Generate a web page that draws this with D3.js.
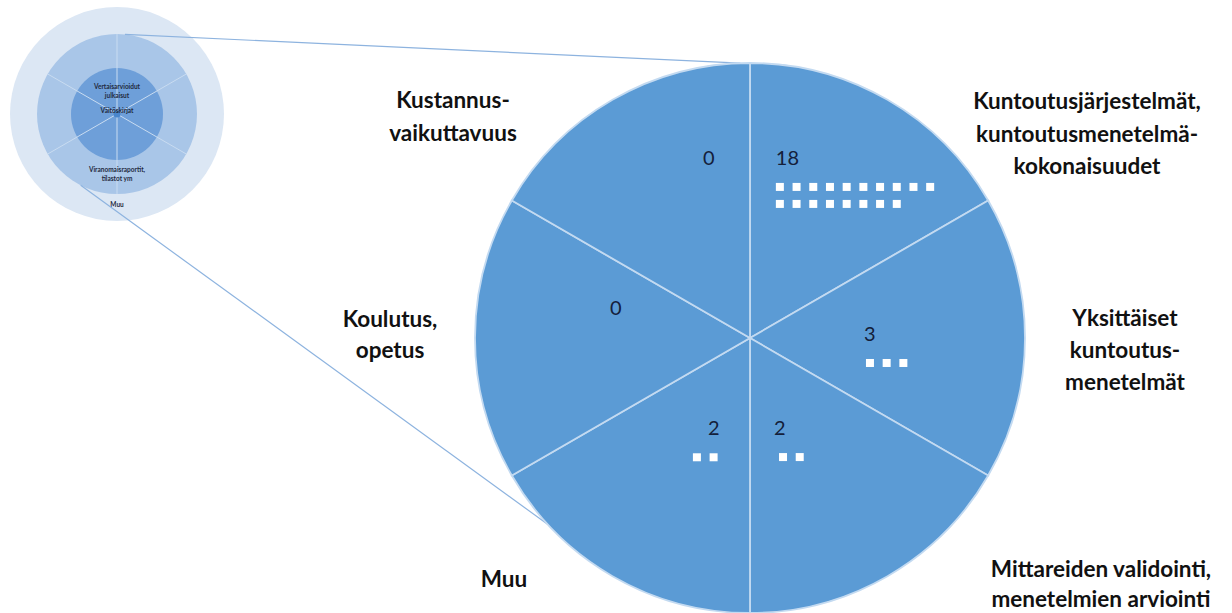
<!DOCTYPE html>
<html>
<head>
<meta charset="utf-8">
<script src="https://cdn.jsdelivr.net/npm/d3@7"></script>
<style>
  body { margin: 0; background: #fff; }
  svg { display: block; font-family: Lato, "Open Sans", sans-serif; }
</style>
</head>
<body>
<script>
// categories, clockwise from 12 o'clock
var categories = ["Kuntoutusjärjestelmät", "Yksittäiset kuntoutusmenetelmät", "Mittareiden validointi",
                  "Muu", "Koulutus, opetus", "Kustannusvaikuttavuus"];
var counts = [18, 3, 2, 2, 0, 0];
var labelLines = [
  ["Kuntoutusjärjestelmät,", "kuntoutusmenetelmä-", "kokonaisuudet"],
  ["Yksittäiset", "kuntoutus-", "menetelmät"],
  ["Mittareiden validointi,", "menetelmien arviointi"],
  ["Muu"],
  ["Koulutus,", "opetus"],
  ["Kustannus-", "vaikuttavuus"]
];
// small overview diagram, rings from inside out
var ringLabels = [
  ["Vertaisarvioidut", "julkaisut", "Väitöskirjat"],
  ["Viranomaisraportit,", "tilastot ym"],
  ["Muu"]
];

var width = 1232, height = 613;

var svg = d3.select("body").append("svg")
    .attr("width", width)
    .attr("height", height);

// big circle geometry
var cx = 750, cy = 338, R = 275;
// small circle geometry
var sx = 117, sy = 114, rings = [46, 80, 107];

function polar(x0, y0, deg, r) {
    var a = deg * Math.PI / 180;
    return [x0 + r * Math.sin(a), y0 - r * Math.cos(a)];
}

// label / number placement (polar, degrees clockwise from top)
var numLayout = [
    {a: 8.5, r: 175, sqDx: 0},
    {a: 91.5, r: 114, sqDx: 2},
    {a: 166.1, r: 100, sqDx: 5},
    {a: 203.4, r: 106, sqDx: -15},
    {a: 279.3, r: 142, sqDx: 0},
    {a: 344.8, r: 179, sqDx: 0}
];
var labelLayout = [
    {x: 1087, y: 109, lh: 32.5},
    {x: 1125, y: 326, lh: 32},
    {x: 1101, y: 577, lh: 30},
    {x: 504, y: 587, lh: 32},
    {x: 390, y: 327, lh: 31},
    {x: 453, y: 108, lh: 33}
];

// ---- small overview diagram ----
var small = svg.append("g").attr("transform", "translate(" + sx + "," + sy + ")");
var ringColors = ["#6e9fd9", "#a9c6e8", "#dce7f4"];
small.selectAll("circle.ring")
    .data(rings.slice().reverse())
    .enter().append("circle")
    .attr("class", "ring")
    .attr("r", function(d) { return d; })
    .attr("fill", function(d, i) { return ringColors.slice().reverse()[i]; });

var smallPie = d3.pie().value(function() { return 1; }).sort(null);
small.selectAll("line.spoke")
    .data(smallPie(categories))
    .enter().append("line")
    .attr("class", "spoke")
    .attr("x1", 0).attr("y1", 0)
    .attr("x2", function(d) { return polar(0, 0, d.startAngle * 180 / Math.PI, rings[1])[0]; })
    .attr("y2", function(d) { return polar(0, 0, d.startAngle * 180 / Math.PI, rings[1])[1]; })
    .attr("stroke", "#c9dcf1")
    .attr("stroke-width", 1);
small.append("circle").attr("r", 3.5).attr("fill", "#4a86cc");

var ringTextY = [[-25, -16, -1], [58, 67], [93]];
ringLabels.forEach(function(lines, k) {
    small.selectAll("text.r" + k)
        .data(lines)
        .enter().append("text")
        .attr("class", "r" + k)
        .attr("x", 0)
        .attr("y", function(d, i) { return ringTextY[k][i]; })
        .attr("text-anchor", "middle")
        .attr("font-size", 6.5)
        .attr("font-weight", "bold")
        .attr("fill", "#1f2a40")
        .text(function(d) { return d; });
});

// ---- connecting lines ----
var links = [
    {from: polar(sx, sy, 5.7, rings[1]), to: polar(cx, cy, -2, R)},
    {from: polar(sx, sy, 207, rings[1]), to: polar(cx, cy, 227.3, R)}
];
svg.selectAll("line.link")
    .data(links)
    .enter().append("line")
    .attr("class", "link")
    .attr("x1", function(d) { return d.from[0]; })
    .attr("y1", function(d) { return d.from[1]; })
    .attr("x2", function(d) { return d.to[0]; })
    .attr("y2", function(d) { return d.to[1]; })
    .attr("stroke", "#8db3df")
    .attr("stroke-width", 1.2);

// ---- big pie ----
var pie = d3.pie().value(function() { return 1; }).sort(null);
var arc = d3.arc().innerRadius(0).outerRadius(R);
var big = svg.append("g").attr("transform", "translate(" + cx + "," + cy + ")");

big.selectAll("path.slice")
    .data(pie(counts))
    .enter().append("path")
    .attr("class", "slice")
    .attr("d", arc)
    .attr("fill", "#5b9bd5")
    .attr("stroke", "#c3daf1")
    .attr("stroke-width", 1.8);

// count numbers
var numPos = numLayout.map(function(p) { return polar(0, 0, p.a, p.r); });
big.selectAll("text.count")
    .data(counts)
    .enter().append("text")
    .attr("class", "count")
    .attr("x", function(d, i) { return numPos[i][0]; })
    .attr("y", function(d, i) { return numPos[i][1]; })
    .attr("font-size", 20)
    .attr("fill", "#14203a")
    .text(function(d) { return d; });

// one white square per item, 10 per row
var perRow = 10, sqSize = 8;
var colX = d3.scaleLinear().domain([0, 1]).range([0, 16.7]);
var rowY = d3.scaleLinear().domain([0, 1]).range([0, 17]);
counts.forEach(function(n, k) {
    var x0 = numPos[k][0] + numLayout[k].sqDx, y0 = numPos[k][1] + 18;
    big.selectAll("rect.sq" + k)
        .data(d3.range(n))
        .enter().append("rect")
        .attr("class", "sq" + k)
        .attr("x", function(i) { return x0 + colX(i % perRow); })
        .attr("y", function(i) { return y0 + rowY(Math.floor(i / perRow)); })
        .attr("width", sqSize)
        .attr("height", sqSize)
        .attr("fill", "#ffffff");
});

// category labels
labelLines.forEach(function(lines, k) {
    var L = labelLayout[k];
    svg.selectAll("text.lab" + k)
        .data(lines)
        .enter().append("text")
        .attr("class", "lab" + k)
        .attr("x", L.x)
        .attr("y", function(d, i) { return L.y + i * L.lh; })
        .attr("text-anchor", "middle")
        .attr("font-size", 22.5)
        .attr("font-weight", "bold")
        .attr("fill", "#111")
        .text(function(d) { return d; });
});
</script>
</body>
</html>
